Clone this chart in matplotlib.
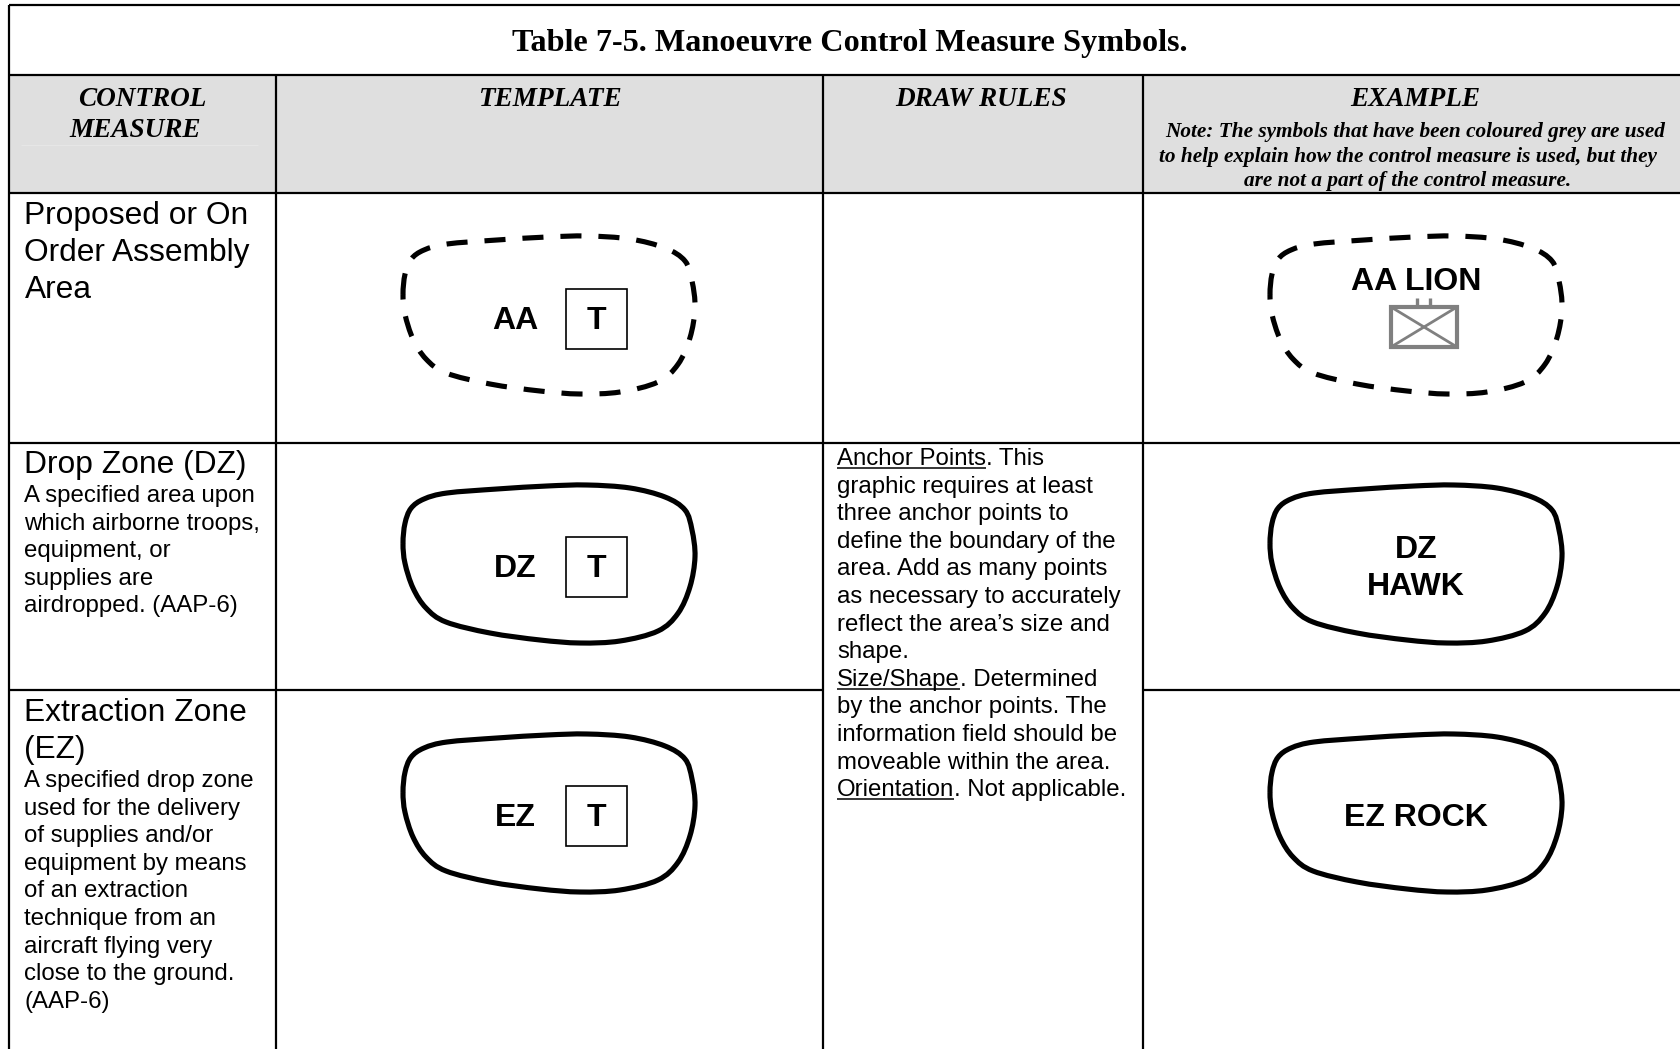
"""Table 7-5 redrawn on one full-figure axes, in reference pixel coordinates."""
import matplotlib
matplotlib.use("Agg")
import matplotlib.pyplot as plt
import numpy as np
from matplotlib.patches import PathPatch, Rectangle
from matplotlib.path import Path

W, H = 1681, 1049
SANS, SERIF = "Liberation Sans", "Liberation Serif"
BLACK, GREY, HEAD = "#000000", "#808080", "#dfdfdf"

COL_X = [9, 276, 823, 1143]
ROW_Y = [5, 75, 193, 443, 690]

TITLE = "Table 7-5. Manoeuvre Control Measure Symbols."
HEADERS = ["CONTROL", "MEASURE", "TEMPLATE", "DRAW RULES", "EXAMPLE"]
NOTE = ["Note: The symbols that have been coloured grey are used",
        "to help explain how the control measure is used, but they",
        "are not a part of the control measure."]

AA_NAME = ["Proposed or On", "Order Assembly", "Area"]
DZ_NAME = ["Drop Zone (DZ)"]
DZ_TEXT = ["A specified area upon", "which airborne troops,", "equipment, or",
           "supplies are", "airdropped. (AAP-6)"]
EZ_NAME = ["Extraction Zone", "(EZ)"]
EZ_TEXT = ["A specified drop zone", "used for the delivery",
           "of supplies and/or", "equipment by means", "of an extraction",
           "technique from an", "aircraft flying very",
           "close to the ground.", "(AAP-6)"]

RULES = [("Anchor Points", ". This"), ("", "graphic requires at least"),
         ("", "three anchor points to"), ("", "define the boundary of the"),
         ("", "area. Add as many points"), ("", "as necessary to accurately"),
         ("", "reflect the area’s size and"), ("", "shape."),
         ("Size/Shape", ". Determined"), ("", "by the anchor points. The"),
         ("", "information field should be"), ("", "moveable within the area."),
         ("Orientation", ". Not applicable.")]

# outline of the area symbol (Drop Zone template position), starting on the left
SHAPE_X = [403, 405, 411, 424, 447, 497, 547, 587, 630, 665, 685, 692,
           695, 690, 678, 658, 620, 580, 540, 490, 446, 426, 413, 405]
SHAPE_Y = [543.3, 523.3, 508.3, 499, 493, 489, 486, 485, 488, 497, 510, 530,
           556.7, 586.7, 613.3, 631, 641, 643, 640, 633, 622, 608, 588, 563.3]
ROW_SHIFT = 249
EXAMPLE_SHIFT = 867


def outline():
    """Closed Catmull-Rom spline through the outline points, as bezier curves."""
    p = np.column_stack([SHAPE_X, SHAPE_Y]).astype(float)
    n = len(p)
    verts, codes = [p[0]], [Path.MOVETO]
    for i in range(n):
        p0, p1, p2, p3 = p[i - 1], p[i], p[(i + 1) % n], p[(i + 2) % n]
        verts += [p1 + (p2 - p0) / 6, p2 - (p3 - p1) / 6, p2]
        codes += [Path.CURVE4] * 3
    return np.array(verts), codes


def draw_area(ax, dx, dy, dashed=False):
    verts, codes = outline()
    patch = PathPatch(Path(verts + [dx, dy], codes), fill=False, ec=BLACK,
                      lw=3.7, capstyle="butt", zorder=3)
    if dashed:
        patch.set_linestyle((0, (4.1, 3.3)))
    ax.add_patch(patch)


def lines(ax, x, y0, step, texts, size):
    for i, t in enumerate(texts):
        ax.text(x, y0 + i * step, t, fontsize=size, va="baseline", family=SANS)


def sym_label(ax, x, y, t, size=23):
    ax.text(x, y, t, fontsize=size, fontweight="bold", family=SANS,
            ha="center", va="baseline", zorder=4)


def main():
    fig = plt.figure(figsize=(W / 100, H / 100), dpi=100)
    ax = fig.add_axes([0, 0, 1, 1])
    ax.set_xlim(0, W)
    ax.set_ylim(H, 0)
    ax.axis("off")

    # grid
    ax.add_patch(Rectangle((COL_X[0], ROW_Y[1]), W - COL_X[0],
                           ROW_Y[2] - ROW_Y[1], fc=HEAD, ec="none", zorder=0))
    ax.hlines([ROW_Y[0], ROW_Y[1], ROW_Y[2], ROW_Y[3]], COL_X[0], W,
              color=BLACK, lw=1.6)
    ax.hlines(ROW_Y[4], COL_X[0], COL_X[2], color=BLACK, lw=1.6)
    ax.hlines(ROW_Y[4], COL_X[3], W, color=BLACK, lw=1.6)
    ax.vlines(COL_X[0], ROW_Y[0], H, color=BLACK, lw=1.6)
    ax.vlines(COL_X[1:], ROW_Y[1], H, color=BLACK, lw=1.6)
    ax.hlines(145, 21, 258, color="#e6e6e6", lw=0.8)

    # headers
    ax.text(850, 51, TITLE, fontsize=23.2, fontweight="bold", family=SERIF,
            ha="center", va="baseline")
    head_kw = dict(fontsize=19.6, fontweight="bold", style="italic", family=SERIF,
                   ha="center", va="baseline")
    ax.text(142.5, 106, HEADERS[0], **head_kw)
    ax.text(135, 137, HEADERS[1], **head_kw)
    ax.text(549.5, 106, HEADERS[2], **head_kw)
    ax.text(981.5, 106, HEADERS[3], **head_kw)
    ax.text(1415.5, 106, HEADERS[4], **head_kw)
    note_kw = dict(head_kw, fontsize=15.35)
    for x, y, t in zip([1415, 1407.5, 1408], [137, 162, 186], NOTE):
        ax.text(x, y, t, **note_kw)

    # first column
    lines(ax, 24.5, 224, 37, AA_NAME, 22.9)
    lines(ax, 24.5, 473, 37, DZ_NAME, 22.9)
    lines(ax, 24.5, 502, 27.6, DZ_TEXT, 17.3)
    lines(ax, 24.5, 721, 37, EZ_NAME, 22.9)
    lines(ax, 24.5, 787, 27.6, EZ_TEXT, 17.3)

    # draw rules, underlined lead-ins measured from the renderer
    fig.canvas.draw()
    rend = fig.canvas.get_renderer()
    for i, (lead, rest) in enumerate(RULES):
        y, x = 465 + i * 27.6, 837
        if lead:
            t = ax.text(x, y, lead, fontsize=17.3, family=SANS, va="baseline")
            w = t.get_window_extent(rend).width
            ax.hlines(y + 3, x, x + w, color=BLACK, lw=1.1)
            x += w
        ax.text(x, y, rest, fontsize=17.3, family=SANS, va="baseline")

    # symbols
    draw_area(ax, 0, -ROW_SHIFT, dashed=True)
    draw_area(ax, 0, 0)
    draw_area(ax, 0, ROW_SHIFT)
    draw_area(ax, EXAMPLE_SHIFT, -ROW_SHIFT, dashed=True)
    draw_area(ax, EXAMPLE_SHIFT, 0)
    draw_area(ax, EXAMPLE_SHIFT, ROW_SHIFT)

    for y, t in zip([329, 577, 826], ["AA", "DZ", "EZ"]):
        sym_label(ax, 515, y, t)
        ax.add_patch(Rectangle((566, y - 40), 61, 60, fc="none", ec=BLACK, lw=1.2))
        sym_label(ax, 596, y, "T")

    sym_label(ax, 1416, 289.5, "AA LION")
    sym_label(ax, 1416, 558, "DZ")
    sym_label(ax, 1416, 595, "HAWK")
    sym_label(ax, 1416, 826, "EZ ROCK")

    # grey unit symbol in the AA example
    ax.add_patch(Rectangle((1391, 307), 66, 40, fc="none", ec=GREY, lw=3))
    ax.plot([1391, 1457], [307, 347], color=GREY, lw=2)
    ax.plot([1391, 1457], [347, 307], color=GREY, lw=2)
    ax.vlines([1417, 1430], 298, 307, color=GREY, lw=2.4)

    fig.savefig("out.png", dpi=100)
    plt.close(fig)


if __name__ == "__main__":
    main()
